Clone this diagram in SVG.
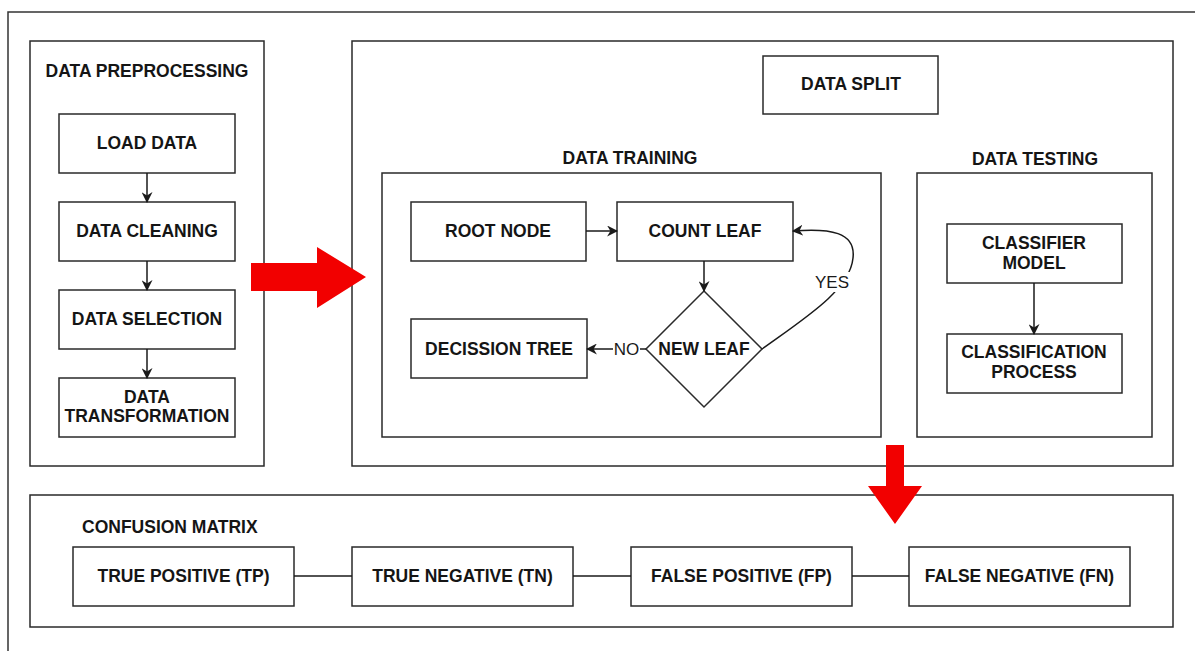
<svg xmlns="http://www.w3.org/2000/svg" width="1197" height="651" viewBox="0 0 1197 651">
<style>
.box{fill:#fff;stroke:#2a2a2a;stroke-width:1.5}
.grp{fill:none;stroke:#2a2a2a;stroke-width:1.5}
.t{font-family:"Liberation Sans",Arial,Helvetica,sans-serif;font-size:17.5px;font-weight:bold;fill:#151515;text-anchor:middle}
.l{font-family:"Liberation Sans",Arial,Helvetica,sans-serif;font-size:17px;fill:#1a1a1a;text-anchor:middle}
.c{fill:none;stroke:#1a1a1a;stroke-width:1.5}
.red{fill:#f20000;stroke:none}
</style>
<defs>
<marker id="ah" viewBox="0 0 10 10" refX="9" refY="5" markerWidth="11" markerHeight="11" markerUnits="userSpaceOnUse" orient="auto">
<path d="M0,0 L10,5 L0,10 L3,5 z" fill="#1a1a1a"/>
</marker>
</defs>
<rect width="1197" height="651" fill="#fff"/>
<path d="M8 651 V12 H1195" fill="none" stroke="#333" stroke-width="1.5"/>

<g id="preprocessing">
<rect class="grp" x="30" y="41" width="234" height="425"/>
<text class="t" x="147" y="77">DATA PREPROCESSING</text>
</g>
<g id="load-data"><rect class="box" x="59" y="114" width="176" height="59"/><text class="t" x="147" y="149">LOAD DATA</text></g>
<g id="data-cleaning"><rect class="box" x="59" y="202" width="176" height="59"/><text class="t" x="147" y="237">DATA CLEANING</text></g>
<g id="data-selection"><rect class="box" x="59" y="290" width="176" height="59"/><text class="t" x="147" y="325">DATA SELECTION</text></g>
<g id="data-transformation"><rect class="box" x="59" y="378" width="176" height="59"/><text class="t" x="147" y="403">DATA</text><text class="t" x="147" y="422">TRANSFORMATION</text></g>

<g id="main">
<rect class="grp" x="352" y="41" width="821" height="425"/>
</g>
<g id="data-split"><rect class="box" x="763" y="56" width="175" height="58"/><text class="t" x="851" y="90">DATA SPLIT</text></g>

<g id="data-training">
<text class="t" x="630" y="164">DATA TRAINING</text>
<rect class="grp" x="382" y="173" width="499" height="264"/>
</g>
<g id="root-node"><rect class="box" x="411" y="202" width="175" height="59"/><text class="t" x="498" y="237">ROOT NODE</text></g>
<g id="count-leaf"><rect class="box" x="617" y="202" width="176" height="59"/><text class="t" x="705" y="237">COUNT LEAF</text></g>
<g id="decision-tree"><rect class="box" x="411" y="319" width="176" height="59"/><text class="t" x="499" y="355">DECISSION TREE</text></g>
<g id="new-leaf"><path class="box" d="M704 291 L762 349 L704 407 L646 349 Z"/><text class="t" x="704" y="355">NEW LEAF</text></g>

<g id="data-testing">
<text class="t" x="1035" y="165">DATA TESTING</text>
<rect class="grp" x="917" y="173" width="235" height="264"/>
</g>
<g id="classifier-model"><rect class="box" x="947" y="224" width="175" height="59"/><text class="t" x="1034" y="249">CLASSIFIER</text><text class="t" x="1034" y="269">MODEL</text></g>
<g id="classification-process"><rect class="box" x="947" y="334" width="175" height="59"/><text class="t" x="1034" y="358">CLASSIFICATION</text><text class="t" x="1034" y="378">PROCESS</text></g>

<g id="confusion-matrix">
<rect class="grp" x="30" y="495" width="1143" height="132"/>
<text class="t" x="82" y="533" style="text-anchor:start">CONFUSION MATRIX</text>
</g>
<g id="tp"><rect class="box" x="73" y="547" width="221" height="59"/><text class="t" x="183.5" y="582">TRUE POSITIVE (TP)</text></g>
<g id="tn"><rect class="box" x="352" y="547" width="221" height="59"/><text class="t" x="462.5" y="582">TRUE NEGATIVE (TN)</text></g>
<g id="fp"><rect class="box" x="631" y="547" width="221" height="59"/><text class="t" x="741.5" y="582">FALSE POSITIVE (FP)</text></g>
<g id="fn"><rect class="box" x="909" y="547" width="221" height="59"/><text class="t" x="1019.5" y="582">FALSE NEGATIVE (FN)</text></g>

<g id="connectors">
<line class="c" x1="147" y1="173" x2="147" y2="202" marker-end="url(#ah)"/>
<line class="c" x1="147" y1="261" x2="147" y2="290" marker-end="url(#ah)"/>
<line class="c" x1="147" y1="349" x2="147" y2="378" marker-end="url(#ah)"/>
<line class="c" x1="586" y1="231" x2="617" y2="231" marker-end="url(#ah)"/>
<line class="c" x1="704" y1="261" x2="704" y2="291" marker-end="url(#ah)"/>
<line class="c" x1="646" y1="349" x2="587" y2="349" marker-end="url(#ah)"/>
<rect x="613" y="339" width="27" height="20" fill="#fff"/>
<text class="l" x="626.5" y="355">NO</text>
<path class="c" d="M762 349 C805 318 850 290 853 258 C856 232 830 228 793 231" marker-end="url(#ah)"/>
<rect x="814" y="272" width="36" height="20" fill="#fff"/>
<text class="l" x="832" y="288">YES</text>
<line class="c" x1="1034" y1="283" x2="1034" y2="334" marker-end="url(#ah)"/>
<line class="c" x1="294" y1="576" x2="352" y2="576"/>
<line class="c" x1="573" y1="576" x2="631" y2="576"/>
<line class="c" x1="852" y1="576" x2="909" y2="576"/>
<path class="red" d="M251 263 H317 V247 L366 277 L317 308 V291 H251 Z"/>
<path class="red" d="M886 445 H904 V486 H922 L895 524 L868 486 H886 Z"/>
</g>
</svg>
